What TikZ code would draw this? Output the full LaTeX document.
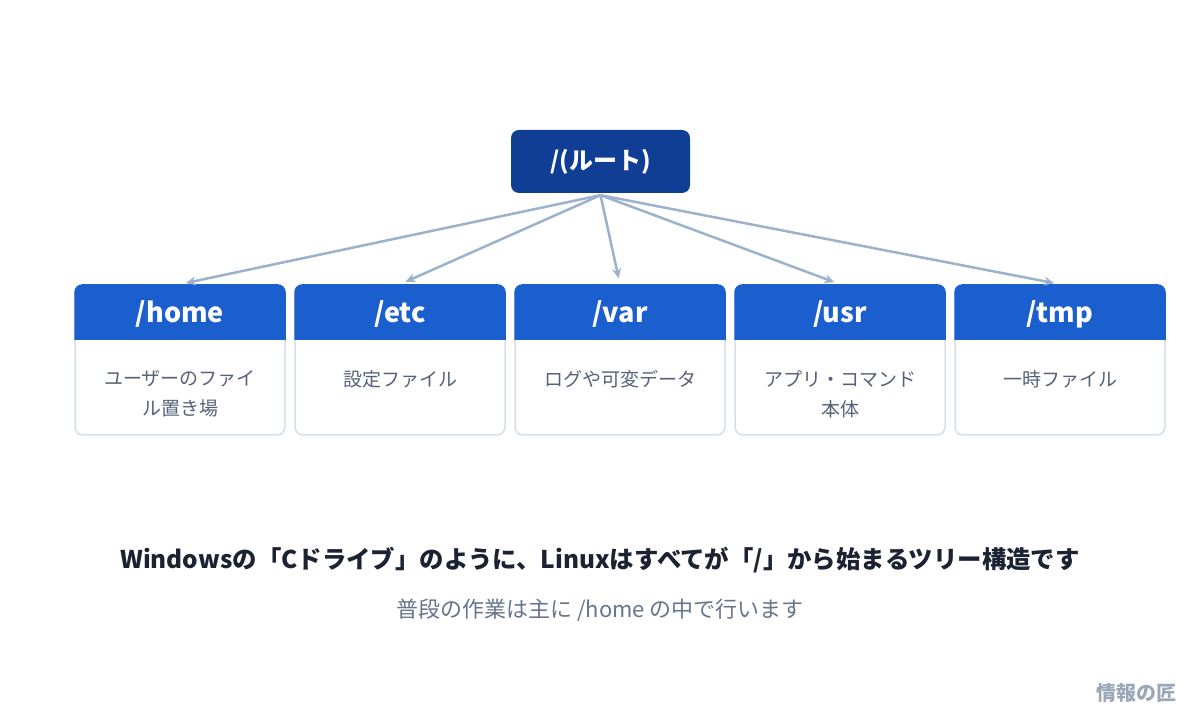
\documentclass[tikz,border=0pt]{standalone}
\usepackage{fontspec}
\setmainfont{Noto Sans CJK JP}
\usetikzlibrary{arrows.meta}

\definecolor{rootblue}{HTML}{0F3E94}
\definecolor{headblue}{HTML}{1B5FCF}
\definecolor{linkgray}{HTML}{9CB1CB}
\definecolor{cardline}{HTML}{D5E0EC}
\definecolor{desctext}{HTML}{55627A}
\definecolor{titletext}{HTML}{1B2333}
\definecolor{subtext}{HTML}{66758C}
\definecolor{marktext}{HTML}{9AA7B8}

\tikzset{
  rootbox/.style={fill=rootblue,rounded corners=8pt,minimum width=179pt,minimum height=63pt,
    text=white,font=\fontsize{24}{28}\selectfont\bfseries},
  card/.style={draw=cardline,line width=1.5pt,fill=white,rounded corners=8pt,
    minimum width=210pt,minimum height=150pt},
  cardtitle/.style={text=white,font=\fontsize{27}{32}\selectfont\bfseries},
  carddesc/.style={text=desctext,align=center,font=\fontsize{19}{30}\selectfont},
  link/.style={draw=linkgray,line width=2.5pt,-{Stealth[length=10pt,width=9pt]},shorten >=6pt}
}

\begin{document}
\begin{tikzpicture}[x=1pt,y=1pt]
\useasboundingbox (0,0) rectangle (1200,720);

% root
\node[rootbox] (root) at (600.5,558.5) {/(ルート)};

% cards
\node[card] (home) at (180,360) {};
\node[card] (etc) at (400,360) {};
\node[card] (var) at (620,360) {};
\node[card] (usr) at (840,360) {};
\node[card] (tmp) at (1060,360) {};

\foreach \c in {home,etc,var,usr,tmp}{
  \begin{scope}
    \clip[rounded corners=8pt] (\c.north west) rectangle (\c.south east);
    \fill[headblue] (\c.north west) rectangle ([yshift=-56pt]\c.north east);
  \end{scope}
}

\node[cardtitle] (homeT) at ([yshift=-30pt]home.north) {/home};
\node[cardtitle] (etcT) at ([yshift=-30pt]etc.north) {/etc};
\node[cardtitle] (varT) at ([yshift=-30pt]var.north) {/var};
\node[cardtitle] (usrT) at ([yshift=-30pt]usr.north) {/usr};
\node[cardtitle] (tmpT) at ([yshift=-30pt]tmp.north) {/tmp};

\node[carddesc,anchor=north] (homeD) at ([yshift=-83pt]home.north) {ユーザーのファイ\\ル置き場};
\node[carddesc,anchor=north] (etcD) at ([yshift=-83pt]etc.north) {設定ファイル};
\node[carddesc,anchor=north] (varD) at ([yshift=-83pt]var.north) {ログや可変データ};
\node[carddesc,anchor=north] (usrD) at ([yshift=-83pt]usr.north) {アプリ・コマンド\\本体};
\node[carddesc,anchor=north] (tmpD) at ([yshift=-83pt]tmp.north) {一時ファイル};

% links
\draw[link] ([yshift=-2pt]root.south) -- (home.north);
\draw[link] ([yshift=-2pt]root.south) -- (etc.north);
\draw[link] ([yshift=-2pt]root.south) -- (var.north);
\draw[link] ([yshift=-2pt]root.south) -- (usr.north);
\draw[link] ([yshift=-2pt]root.south) -- (tmp.north);

% caption
\node[text=titletext,font=\fontsize{24.4}{29}\selectfont\bfseries] (title) at (600,160)
  {Windowsの「Cドライブ」のように、Linuxはすべてが「/」から始まるツリー構造です};
\node[text=subtext,font=\fontsize{22}{26}\selectfont] (sub) at (600,110)
  {普段の作業は主に /home の中で行います};
\node[text=marktext,font=\fontsize{20}{24}\selectfont\bfseries] (mark) at (1136,27) {情報の匠};
\end{tikzpicture}
\end{document}
